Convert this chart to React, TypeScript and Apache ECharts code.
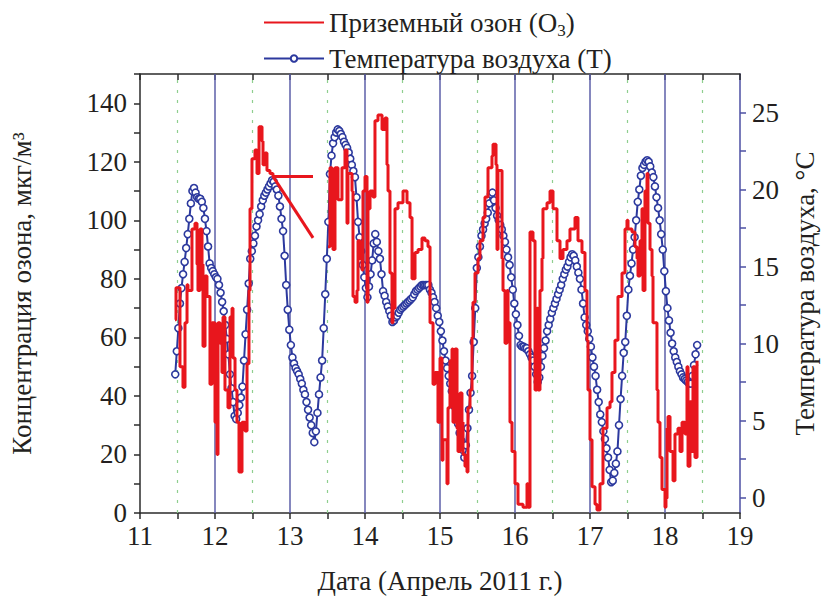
import React, { useEffect, useRef } from "react";
import * as echarts from "echarts";

const FONT = "Liberation Serif, Times New Roman, Times, serif";
const TEXT_COLOR = "#231f20";
const RED = "#e8161d";
const BLUE = "#2c399e";

const ozoneName = "Приземный озон (O3)";
const tempName = "Температура воздуха (T)";
const xTitle = "Дата (Апрель 2011 г.)";
const leftTitle = "Концентрация озона, мкг/м³";
const rightTitle = "Температура воздуха, °C";

const xTickLabels = [11, 12, 13, 14, 15, 16, 17, 18, 19];
const ozoneTickLabels = [0, 20, 40, 60, 80, 100, 120, 140];
const tempTickLabels = [0, 5, 10, 15, 20, 25];
const tempTickMarks = [0, 2.5, 5, 7.5, 10, 12.5, 15, 17.5, 20, 22.5, 25];
const dayLines = [12, 13, 14, 15, 16, 17, 18];
const halfDayLines = [11.5, 12.5, 13.5, 14.5, 15.5, 16.5, 17.5, 18.5];

// Air temperature, every 30 minutes from 11.47 April
const tempStartDay = 11.47;
const tempStepDays = 1 / 48;
const temperature = [
  8.0, 9.5, 11.0, 12.6, 13.6, 14.5, 15.3, 16.2, 17.1, 18.1,
  19.1, 19.9, 20.1, 19.8, 19.5, 19.4, 19.4, 19.2, 18.8, 18.1,
  17.3, 16.3, 15.2, 14.9, 14.7, 14.5, 14.3, 14.2, 13.8, 13.3,
  12.7, 12.1, 11.2, 10.3, 9.3, 8.0, 7.1, 6.2, 5.3, 5.1,
  5.5, 6.0, 6.5, 7.2, 8.9, 10.6, 12.2, 13.9, 15.5, 16.0,
  16.5, 17.0, 17.6, 18.0, 18.4, 18.9, 19.3, 19.6, 19.8, 20.0,
  20.2, 20.4, 20.6, 20.5, 20.2, 20.0, 19.6, 18.9, 18.1, 17.3,
  15.7, 13.8, 12.2, 10.9, 9.9, 9.1, 8.7, 8.4, 8.2, 8.0,
  7.7, 7.4, 7.0, 6.7, 6.2, 5.7, 5.2, 4.7, 4.2, 3.6,
  4.3, 5.5, 6.7, 7.8, 8.9, 11.0, 13.2, 15.5, 17.9, 21.0,
  22.2, 23.0, 23.4, 23.7, 23.9, 23.8, 23.6, 23.4, 23.1, 22.9,
  22.7, 22.4, 22.0, 21.6, 21.2, 20.8, 19.5, 17.9, 16.9, 16.0,
  15.1, 14.3, 13.6, 13.0, 13.7, 14.5, 15.4, 16.5, 17.1, 16.6,
  16.0, 15.5, 14.5, 13.4, 13.1, 12.7, 12.4, 12.1, 11.8, 11.4,
  11.5, 11.7, 11.8, 12.0, 12.2, 12.3, 12.4, 12.5, 12.6, 12.7,
  12.8, 12.9, 13.0, 13.2, 13.4, 13.5, 13.6, 13.7, 13.8, 13.8,
  13.8, 13.8, 13.8, 13.5, 13.3, 13.0, 12.7, 12.3, 11.8, 11.4,
  10.8, 10.2, 9.5, 8.9, 8.4, 7.9, 7.4, 6.9, 6.4, 5.9,
  5.3, 4.8, 4.2, 3.7, 3.1, 2.6, 3.4, 4.5, 5.7, 6.8,
  7.9, 10.1, 12.3, 14.9, 15.6, 16.3, 17.0, 17.4, 17.8, 18.1,
  18.5, 19.1, 19.7, 19.8, 19.3, 18.8, 18.3, 18.0, 17.7, 17.4,
  17.0, 16.6, 16.1, 15.6, 15.1, 14.3, 13.5, 12.6, 11.9, 11.2,
  10.5, 9.9, 9.8, 9.8, 9.7, 9.7, 9.5, 9.3, 9.1, 8.9,
  8.5, 8.0, 7.5, 7.8, 8.5, 9.2, 9.7, 10.2, 10.8, 11.2,
  11.6, 12.0, 12.3, 12.6, 12.9, 13.2, 13.5, 13.8, 14.2, 14.5,
  14.8, 15.0, 15.3, 15.6, 15.8, 15.7, 15.4, 15.0, 14.6, 14.2,
  13.5, 12.6, 11.7, 11.2, 10.8, 10.3, 9.8, 9.1, 8.5, 7.9,
  7.0, 6.2, 5.4, 4.9, 4.3, 3.8, 3.2, 2.6, 1.8, 1.0,
  1.1, 1.6, 2.2, 3.0, 4.7, 6.4, 7.9, 9.4, 10.1, 11.8,
  13.5, 14.4, 15.2, 16.1, 16.9, 18.0, 19.2, 20.0, 20.9, 21.4,
  21.6, 21.8, 21.9, 21.8, 21.5, 21.1, 20.8, 20.2, 19.5, 18.8,
  18.0, 17.1, 16.1, 14.7, 13.4, 12.3, 11.5, 10.7, 10.0, 9.5,
  9.1, 8.8, 8.5, 8.2, 8.0, 7.8, 7.7, 7.6, 7.5, 7.4,
  7.4, 7.9, 8.6, 9.3, 9.9,
];

// Ground-level ozone: day of April and concentration (null = no data)
const ozoneDays = [
  11.467, 11.48, 11.507, 11.533, 11.573, 11.6, 11.627, 11.64, 11.693, 11.733,
  11.76, 11.773, 11.8, 11.827, 11.84, 11.867, 11.893, 11.933, 11.96, 12.0,
  12.027, 12.04, 12.067, 12.093, 12.107, 12.133, 12.173, 12.2, 12.227, 12.24,
  12.267, 12.293, 12.32, 12.36, 12.4, 12.427, 12.453, 12.467, 12.493, 12.533,
  12.56, 12.587, 12.627, 12.64, 12.667, 12.693, 12.733, 12.773, 13.307, 13.4,
  13.507, 13.533, 13.56, 13.573, 13.6, 13.64, 13.693, 13.733, 13.76, 13.773,
  13.827, 13.84, 13.867, 13.893, 13.907, 13.933, 13.96, 13.973, 14.0, 14.027,
  14.04, 14.067, 14.107, 14.133, 14.173, 14.227, 14.267, 14.293, 14.307, 14.333,
  14.36, 14.373, 14.4, 14.44, 14.507, 14.56, 14.6, 14.627, 14.667, 14.707,
  14.76, 14.8, 14.84, 14.867, 14.907, 14.933, 14.973, 15.0, 15.027, 15.04,
  15.093, 15.107, 15.133, 15.16, 15.173, 15.2, 15.227, 15.24, 15.267, 15.293,
  15.307, 15.333, 15.36, 15.373, 15.4, 15.427, 15.44, 15.467, 15.507, 15.533,
  15.573, 15.6, 15.64, 15.693, 15.707, 15.747, 15.76, 15.773, 15.8, 15.827,
  15.84, 15.867, 15.893, 15.907, 15.933, 15.96, 16.0, 16.04, 16.107, 16.16,
  16.173, 16.2, 16.24, 16.267, 16.293, 16.307, 16.333, 16.36, 16.373, 16.427,
  16.467, 16.507, 16.56, 16.6, 16.64, 16.693, 16.733, 16.8, 16.84, 16.893,
  16.933, 16.96, 16.973, 17.0, 17.027, 17.067, 17.093, 17.133, 17.173, 17.227,
  17.267, 17.293, 17.333, 17.373, 17.427, 17.467, 17.493, 17.507, 17.56, 17.6,
  17.627, 17.64, 17.667, 17.693, 17.707, 17.733, 17.76, 17.773, 17.8, 17.827,
  17.84, 17.893, 17.907, 17.933, 17.96, 18.0, 18.013, 18.027, 18.04, 18.067,
  18.107, 18.133, 18.173, 18.2, 18.227, 18.267, 18.293, 18.307, 18.333, 18.36,
  18.373, 18.4, 18.427,
];
const ozoneValues = [
  66, 77, 77, 50, 43, 65, 78, 76, 97, 99,
  85, 76, 97, 85, 57, 81, 74, 44, 65, 31,
  20, 65, 58, 48, 67, 42, 36, 67, 70, 53,
  42, 31, 14, 31, 28, 51, 76, 104, 121, 124,
  116, 132, 127, 119, 123, 117, 116, 115, 94, null,
  91, 118, 110, 90, 118, 107, 118, 124, 99, 116,
  110, 74, 72, 76, 93, 87, 83, 110, 115, 72,
  104, 110, 108, 134, 136, 131, 135, 119, 110, 82,
  65, 70, 104, 106, 110, 106, 101, 80, 89, 90,
  94, 93, 91, 65, 44, 48, 31, 53, 18, 25,
  10, 36, 52, 56, 31, 56, 29, 21, 41, 31,
  20, 16, 14, 36, 42, 60, 72, 82, 87, 93,
  101, 108, 118, 122, 126, 119, 90, 117, 117, 87,
  76, 58, 76, 65, 31, 21, 10, 3, 2, 10,
  2, 96, 93, 42, 70, 42, 76, 87, 104, 106,
  110, 104, 93, 87, 90, 93, 97, 101, 93, 89,
  76, 59, 42, 25, 9, 3, 1, 10, 29, 36,
  38, 48, 59, 74, 82, 97, 100, 97, 96, 91,
  87, 81, 93, 104, 76, 110, 116, 99, 90, 81,
  65, 42, 31, 19, 8, 2, 5, 29, 33, 21,
  11, 27, 29, 21, 31, 27, 50, 16, 38, 21,
  50, 19, 52,
];
// the recorder gap, bridged by a straight line in the original plot
const ozoneGapFrom = 12.773;
const ozoneGapTo = 13.307;

function buildOption() {
  const tempData = temperature.map((v, i) => [tempStartDay + i * tempStepDays, v]);
  const ozoneStepData = ozoneDays.map((d, i) => [d, d > ozoneGapFrom && d <= ozoneGapTo ? null : ozoneValues[i]]);
  const ozoneBridge = ozoneDays
    .map((d, i) => [d, ozoneValues[i]])
    .filter(([d]) => (d as number) >= ozoneGapFrom && (d as number) <= ozoneGapTo);
  const axisText = { fontFamily: FONT, fontSize: 27, color: TEXT_COLOR };
  const darkLine = { color: "#2b2b2b", width: 1.5 };
  const blueAxis = { color: "#4d4fa3", width: 1.5 };
  const hidden = "rgba(0,0,0,0)";

  return {
    animation: false,
    backgroundColor: "#ffffff",
    textStyle: { fontFamily: FONT },
    grid: { left: 140, right: 81, top: 74, bottom: 87, containLabel: false, outerBoundsMode: "none" },
    legend: {
      orient: "vertical",
      left: 258,
      top: 1,
      itemWidth: 60,
      itemHeight: 8,
      itemGap: 3,
      data: [
        { name: ozoneName, itemStyle: { color: hidden, borderColor: hidden } },
        { name: tempName },
      ],
      textStyle: {
        fontFamily: FONT,
        fontSize: 27,
        color: TEXT_COLOR,
        lineHeight: 33,
        rich: {
          t: { fontFamily: FONT, fontSize: 27, color: TEXT_COLOR, lineHeight: 33 },
          s: { fontFamily: FONT, fontSize: 17, color: TEXT_COLOR, lineHeight: 33, verticalAlign: "bottom" },
        },
      },
      formatter: (name: string) =>
        name === ozoneName ? "{t|Приземный озон (O}{s|3}{t|)}" : name,
    },
    xAxis: [
      {
        type: "value",
        min: 11,
        max: 19,
        interval: 0.5,
        position: "bottom",
        name: xTitle,
        nameLocation: "middle",
        nameGap: 54,
        nameTextStyle: axisText,
        axisLine: { show: true, onZero: false, lineStyle: darkLine },
        axisTick: { show: true, inside: false, length: 6, lineStyle: darkLine },
        axisLabel: {
          ...axisText,
          margin: 9,
          formatter: (v: number) => (xTickLabels.includes(v) ? String(v) : ""),
        },
        splitLine: { show: false },
      },
      {
        type: "value",
        min: 11,
        max: 19,
        interval: 0.5,
        position: "top",
        axisLine: { show: true, onZero: false, lineStyle: darkLine },
        axisTick: { show: true, inside: true, length: 6, lineStyle: darkLine },
        axisLabel: { show: false },
        splitLine: { show: false },
      },
    ],
    yAxis: [
      {
        type: "value",
        min: 0,
        max: 150,
        interval: 10,
        position: "left",
        name: leftTitle,
        nameLocation: "middle",
        nameRotate: 90,
        nameGap: 105,
        nameTextStyle: axisText,
        axisLine: { show: true, onZero: false, lineStyle: darkLine },
        axisTick: { show: true, inside: false, length: 6, lineStyle: darkLine },
        axisLabel: {
          ...axisText,
          margin: 13,
          formatter: (v: number) => (ozoneTickLabels.includes(v) ? String(v) : ""),
        },
        splitLine: { show: false },
      },
      {
        type: "value",
        min: -1,
        max: 27.5,
        position: "right",
        name: rightTitle,
        nameLocation: "middle",
        nameRotate: 90,
        nameGap: 51,
        nameTextStyle: axisText,
        axisLine: { show: true, onZero: false, lineStyle: blueAxis },
        axisTick: { show: true, inside: false, length: 6, lineStyle: blueAxis, customValues: tempTickMarks },
        axisLabel: { ...axisText, margin: 12, customValues: tempTickLabels },
        splitLine: { show: false },
      },
    ],
    series: [
      {
        type: "line",
        name: "grid",
        data: [],
        silent: true,
        z: 1,
        markLine: {
          silent: true,
          z: 1,
          symbol: ["none", "none"],
          label: { show: false },
          emphasis: { disabled: true },
          data: [
            ...dayLines.map((d) => ({
              xAxis: d,
              lineStyle: { color: "#5c5fa8", width: 1.5, type: "solid" },
            })),
            ...halfDayLines.map((d) => ({
              xAxis: d,
              lineStyle: { color: "#8fcf8f", width: 1.2, type: [3, 7] },
            })),
          ],
        },
      },
      {
        type: "line",
        name: tempName,
        xAxisIndex: 0,
        yAxisIndex: 1,
        data: tempData,
        z: 2,
        showSymbol: true,
        symbol: "circle",
        symbolSize: 7,
        lineStyle: { color: BLUE, width: 2 },
        itemStyle: { color: "#ffffff", borderColor: BLUE, borderWidth: 1.6 },
      },
      {
        type: "line",
        name: ozoneName,
        xAxisIndex: 0,
        yAxisIndex: 0,
        data: ozoneStepData,
        z: 3,
        step: "end",
        showSymbol: false,
        symbol: "none",
        connectNulls: false,
        lineStyle: { color: RED, width: 3 },
        itemStyle: { color: RED },
      },
      {
        type: "line",
        name: ozoneName,
        xAxisIndex: 0,
        yAxisIndex: 0,
        data: ozoneBridge,
        z: 3,
        showSymbol: false,
        symbol: "none",
        lineStyle: { color: RED, width: 3 },
        itemStyle: { color: RED },
      },
    ],
  };
}

export default function App() {
  const ref = useRef<HTMLDivElement>(null);
  useEffect(() => {
    document.body.style.margin = "0";
    const chart = echarts.init(ref.current as HTMLDivElement, null, { renderer: "svg" });
    chart.setOption(buildOption() as any);
    return () => chart.dispose();
  }, []);
  return <div ref={ref} style={{ width: 821, height: 600 }} />;
}
